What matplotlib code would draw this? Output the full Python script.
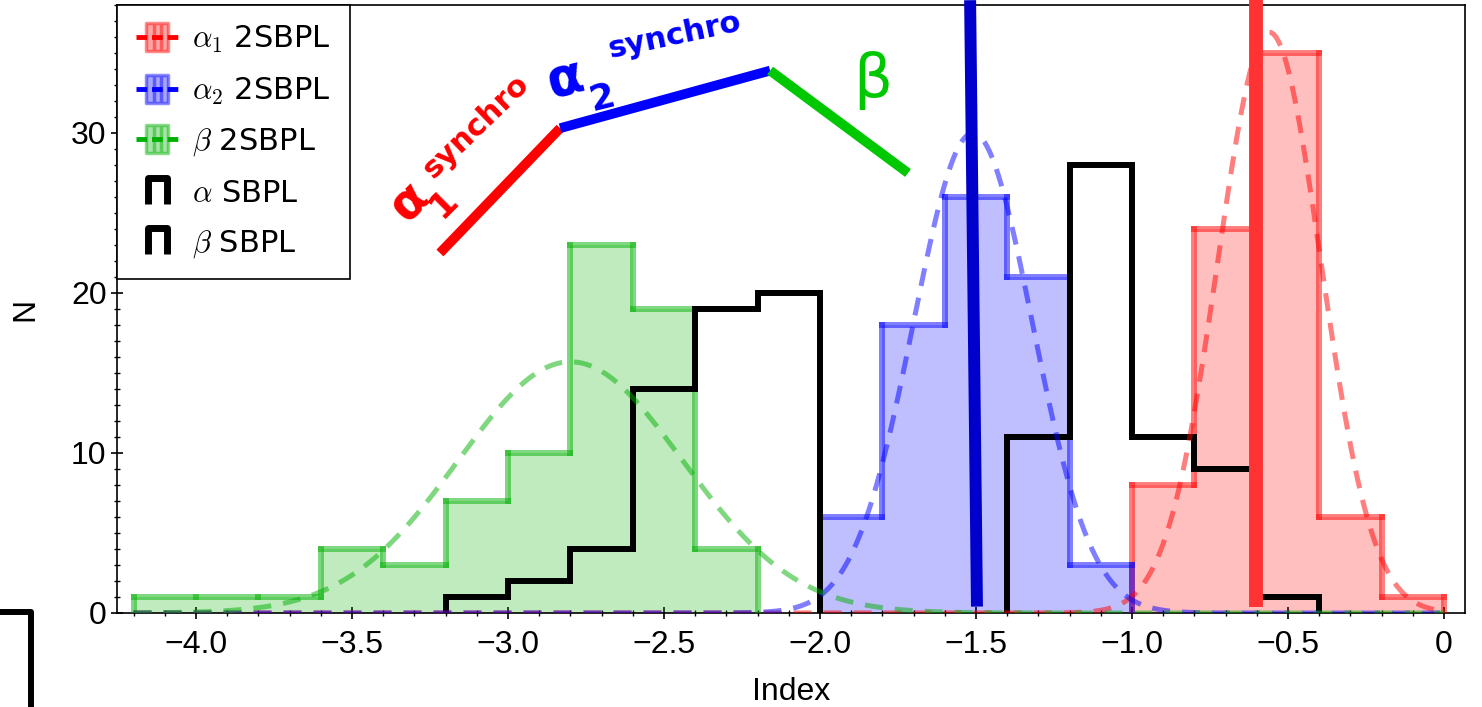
import numpy as np
import matplotlib
matplotlib.use("Agg")
from matplotlib import pyplot as plt
from matplotlib.collections import LineCollection
from matplotlib.lines import Line2D
from matplotlib.path import Path
from matplotlib.ticker import MultipleLocator, FuncFormatter

plt.rcParams['font.family'] = ['Liberation Sans', 'DejaVu Sans']
plt.rcParams['mathtext.fontset'] = 'cm'

# histogram bins shared by every index distribution
bin_edges = np.round(np.arange(-4.2, 0.001, 0.2), 1)

# 2SBPL fits: counts per bin
alpha1_2sbpl = [0, 0, 0, 0, 0, 0, 0, 0, 0, 0, 0, 0, 0, 0, 0, 0, 8, 24, 35, 6, 1]
alpha2_2sbpl = [0, 0, 0, 0, 0, 0, 0, 0, 0, 0, 0, 6, 18, 26, 21, 3, 0, 0, 0, 0, 0]
beta_2sbpl = [1, 1, 1, 4, 3, 7, 10, 23, 19, 4, 0, 0, 0, 0, 0, 0, 0, 0, 0, 0, 0]

# SBPL fits: counts per bin
alpha_sbpl = [0, 0, 0, 0, 0, 0, 0, 0, 0, 0, 0, 0, 0, 0, 11, 28, 11, 9, 1, 0, 0]
beta_sbpl = [0, 0, 0, 0, 0, 1, 2, 4, 14, 19, 20, 0, 0, 0, 0, 0, 0, 0, 0, 0, 0]

# gaussian fits to the 2SBPL distributions (alpha1, alpha2, beta)
fit_mean = [-0.56, -1.51, -2.80]
fit_sigma = [0.165, 0.19, 0.36]
fit_peak = [36.3, 30.0, 15.7]

# synchrotron expectations for alpha1 and alpha2
synchro_alpha1 = [-0.604, -0.604]
synchro_alpha2 = [-1.497, -1.519]
synchro_span = [0.4, 38.3]

# sketch of the 2SBPL spectral shape
sketch_x = [-3.218, -2.833, -2.160, -1.718]
sketch_y = [22.5, 30.3, 33.9, 27.5]

red = '#ff0000'
blue = '#0000ff'
green = '#00b000'
series = [(alpha1_2sbpl, red), (alpha2_2sbpl, blue), (beta_2sbpl, green)]

fig = plt.figure(figsize=(14.82, 7.07), dpi=100)
ax = fig.add_axes([117 / 1482, 94 / 707, 1348 / 1482, 608 / 707])


def filled_hist(counts, color):
    counts = np.asarray(counts, dtype=float)
    left = bin_edges[:-1]
    keep = counts > 0
    ax.bar(left[keep], counts[keep], width=0.2, align='edge', color=color,
           alpha=0.25, lw=0, zorder=2)
    # outline drawn segment by segment so that corners overlap
    segs = []
    padded = np.concatenate([[0], counts, [0]])
    for i, c in enumerate(counts):
        if c > 0:
            segs.append([(bin_edges[i], c), (bin_edges[i + 1], c)])
    for j, x in enumerate(bin_edges):
        lo, hi = sorted([padded[j], padded[j + 1]])
        if hi != lo:
            segs.append([(x, lo), (x, hi)])
    lc = LineCollection(segs, colors=color, alpha=0.5, linewidths=4.3,
                        capstyle='projecting', zorder=3)
    ax.add_collection(lc)


def black_step(counts):
    counts = np.asarray(counts, dtype=float)
    nz = np.nonzero(counts)[0]
    sel = slice(nz[0], nz[-1] + 1)
    ax.stairs(counts[sel], bin_edges[nz[0]:nz[-1] + 2], color='k', lw=4.3,
              baseline=0, zorder=4)


for counts, color in series:
    filled_hist(counts, color)

black_step(alpha_sbpl)
black_step(beta_sbpl)

xs = np.linspace(-4.2, 0.0, 500)
for (counts, color), mu, sig, pk in zip(series, fit_mean, fit_sigma, fit_peak):
    ax.plot(xs, pk * np.exp(-0.5 * ((xs - mu) / sig) ** 2), color=color,
            alpha=0.5, lw=3.6, dashes=(3.6, 2.4), zorder=5)

ax.plot(synchro_alpha2, synchro_span, color='#0000cc', lw=8.6,
        solid_capstyle='butt', clip_on=False, zorder=6)
ax.plot(synchro_alpha1, synchro_span, color='#ff3333', lw=10,
        solid_capstyle='butt', clip_on=False, zorder=6)

# spectral shape sketch with its labels
ax.plot(sketch_x[0:2], sketch_y[0:2], color=red, lw=7, solid_capstyle='butt', zorder=7)
ax.plot(sketch_x[1:3], sketch_y[1:3], color=blue, lw=7, solid_capstyle='butt', zorder=7)
ax.plot(sketch_x[2:4], sketch_y[2:4], color='#00c800', lw=7, solid_capstyle='butt', zorder=7)

kw = dict(ha='center', va='center', rotation_mode='anchor', family='DejaVu Sans',
          fontweight='bold', zorder=8)
ax.text(-3.317, 25.7, 'α', color=red, fontsize=36, rotation=45, **kw)
ax.text(-3.205, 25.6, '1', color=red, fontsize=26, rotation=45, **kw)
ax.text(-3.103, 30.4, 'synchro', color=red, fontsize=22, rotation=44, **kw)
ax.text(-2.817, 33.4, 'α', color=blue, fontsize=38, rotation=14, **kw)
ax.text(-2.699, 32.2, '2', color=blue, fontsize=26, rotation=14, **kw)
ax.text(-2.465, 36.1, 'synchro', color=blue, fontsize=22, rotation=12, **kw)
ax.text(-1.830, 33.3, 'β', color='#00c800', fontsize=44, ha='center', va='center',
        family='DejaVu Sans', zorder=8)

ax.set_xlim(-4.253, 0.067)
ax.set_ylim(0, 38)

ax.xaxis.set_major_locator(MultipleLocator(0.5))
ax.xaxis.set_minor_locator(MultipleLocator(0.1))
ax.yaxis.set_major_locator(MultipleLocator(10))
ax.yaxis.set_minor_locator(MultipleLocator(1))
ax.xaxis.set_major_formatter(FuncFormatter(
    lambda v, p: '0' if abs(v) < 1e-9 else f'{v:.1f}'.replace('-', '\u2212')))
ax.tick_params(which='major', direction='inout', length=8, width=1.2,
               labelsize=23, top=False, right=False)
ax.tick_params(which='minor', direction='inout', length=5, width=1,
               top=False, right=False)
ax.tick_params(axis='x', pad=8)
for s in ax.spines.values():
    s.set_linewidth(1.2)

ax.set_xlabel('Index', fontsize=23)
ax.set_ylabel('N', fontsize=23)
ax.xaxis.set_label_coords(0.5, -0.105)
ax.yaxis.set_label_coords(-0.057, 0.5)

pi_marker = Path([(-0.36, -0.5), (-0.36, 0.5), (0.36, 0.5), (0.36, -0.5)],
                 [Path.MOVETO, Path.LINETO, Path.LINETO, Path.LINETO])

# tall box with two inner bars for the filled histograms
box_marker = Path([(-0.4, -0.5), (0.4, -0.5), (0.4, 0.5), (-0.4, 0.5), (-0.4, -0.5),
                   (-0.1, -0.5), (-0.1, 0.5), (0.15, -0.5), (0.15, 0.5)],
                  [Path.MOVETO, Path.LINETO, Path.LINETO, Path.LINETO, Path.CLOSEPOLY,
                   Path.MOVETO, Path.LINETO, Path.MOVETO, Path.LINETO])


def colour_handle(color):
    rgba_face = matplotlib.colors.to_rgba(color, 0.35)
    rgba_edge = matplotlib.colors.to_rgba(color, 0.45)
    return Line2D([], [], color=color, lw=3.5, dashes=(2.2, 1.0), marker=box_marker,
                  markersize=20, markerfacecolor=rgba_face,
                  markeredgecolor=rgba_edge, markeredgewidth=2.5)


def black_handle():
    return Line2D([], [], ls='none', marker=pi_marker, markersize=19,
                  markerfacecolor='none', markeredgecolor='k', markeredgewidth=5)


handles = [colour_handle(red), colour_handle(blue), colour_handle(green),
           black_handle(), black_handle()]
labels = [r'$\alpha_1$ 2SBPL', r'$\alpha_2$ 2SBPL', r'$\beta$ 2SBPL',
          r'$\alpha$ SBPL', r'$\beta$ SBPL']
leg = ax.legend(handles, labels, loc='upper left', borderaxespad=0,
                fancybox=False, edgecolor='k', framealpha=1,
                prop={'family': 'DejaVu Sans', 'size': 22},
                handlelength=1.4, handletextpad=0.45, labelspacing=0.66,
                borderpad=0.62)
leg.get_frame().set_linewidth(1.2)
leg.set_zorder(10)

# edge of the neighbouring panel
fig.add_artist(Line2D([0, 31 / 1482, 31 / 1482], [1 - 612 / 707, 1 - 612 / 707, 0],
                      transform=fig.transFigure, color='k', lw=4.3))

fig.savefig('out.png', dpi=100)
